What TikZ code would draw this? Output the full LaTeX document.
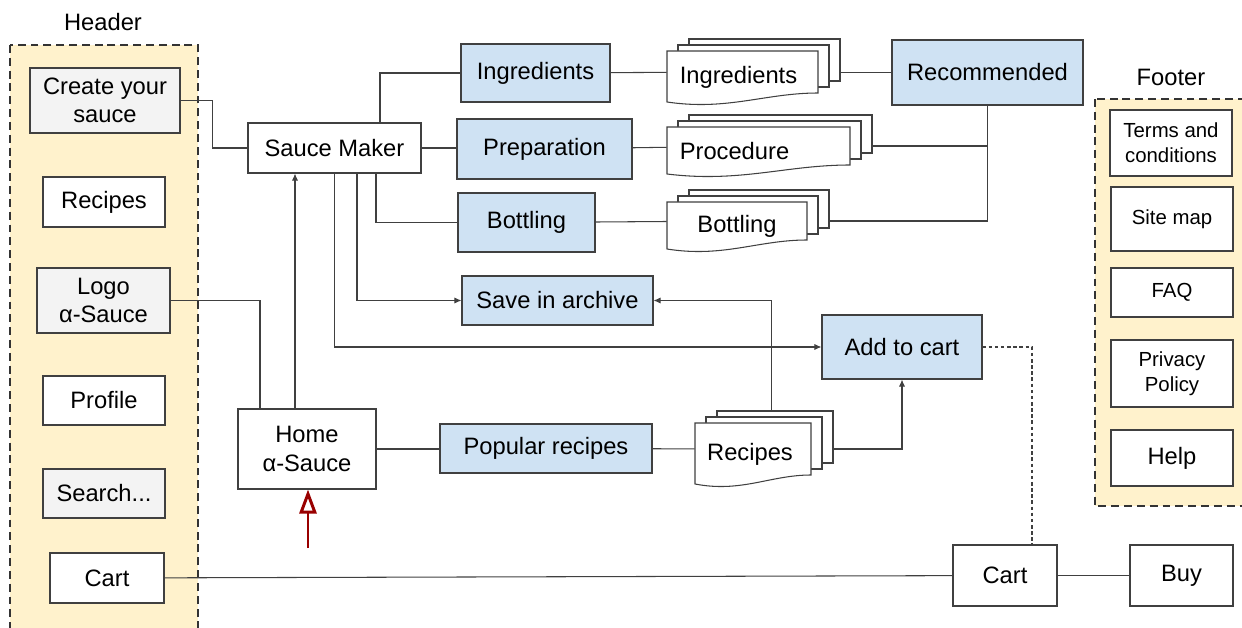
\documentclass[tikz,border=0pt]{standalone}
\usepackage{fontspec}
\setmainfont{Liberation Sans}
\usetikzlibrary{arrows.meta,calc}
\definecolor{boxblue}{HTML}{CFE2F3}
\definecolor{boxgray}{HTML}{F3F3F3}
\definecolor{areayellow}{HTML}{FFF2CC}
\definecolor{linegray}{HTML}{404040}
\definecolor{homered}{HTML}{990000}
% stack of three pages: name, left, top, right, height, text shift, text
\newcommand{\docstack}[7]{%
  \foreach \s in {2,1}
    \draw[page] (#2+11*\s,#3-6*\s) rectangle (#4+11*\s,#3+#5-6*\s);
  \draw[page] (#2,#3) -- (#4,#3) -- (#4,#3+#5)
    .. controls ({#4-0.35*(#4-#2)},#3+#5) and ({#2+0.4*(#4-#2)},#3+#5+18) .. (#2,#3+#5+9) -- cycle;
  \node[minimum width={(#4-#2)*0.02cm}, minimum height={#5*0.02cm}, inner sep=0pt] (#1) at ({(#2+#4)/2},{#3+#5/2}) {};
  \node[font=\fontsize{13.5}{16}\selectfont] (#1-label) at ($(#1)+(#6,5)$) {#7};
  \coordinate (#1-back) at (#4+22,{#3+#5/2});
}
\begin{document}
\begin{tikzpicture}[x=0.02cm, y=-0.02cm,
    box/.style={draw=linegray, line width=0.6pt, inner sep=0pt, align=center, font=\fontsize{13.5}{16}\selectfont},
    whitebox/.style={box, fill=white},
    greybox/.style={box, fill=boxgray},
    bluebox/.style={box, fill=boxblue},
    small/.style={font=\fontsize{11.6}{14}\selectfont},
    page/.style={draw=linegray, line width=0.6pt, fill=white},
    area/.style={draw=black!80, fill=areayellow, line width=1.3pt, dash pattern=on 4.5pt off 2.8pt},
    link/.style={draw=linegray, line width=0.6pt},
    linkarrow/.style={link, -{Latex[length=4pt,width=3.5pt]}},
    entryarrow/.style={draw=homered, line width=1.7pt, -{Triangle[open, length=0.48cm, width=0.34cm, line width=1.7pt]}}]
    \useasboundingbox (0,0) rectangle (1242,628);
    % header and footer
    \draw[area] (10,45) rectangle (198,660);
    \draw[area] (1095,99) rectangle (1270,506);
    \node[font=\fontsize{13.5}{16}\selectfont] (headertitle) at (103,22) {Header};
    \node[font=\fontsize{13.5}{16}\selectfont] (footertitle) at (1171,77) {Footer};
    \node[greybox, minimum width=3cm, minimum height=1.3cm] (create) at (105,100.5) {Create your\\sauce};
    \node[whitebox, minimum width=2.44cm, minimum height=1cm] (recipesH) at (104,202) {Recipes};
    \node[greybox, minimum width=2.66cm, minimum height=1.3cm] (logo) at (103.5,300.5) {Logo\\α-Sauce};
    \node[whitebox, minimum width=2.44cm, minimum height=0.98cm] (profile) at (104,400.5) {Profile};
    \node[greybox, minimum width=2.44cm, minimum height=0.98cm] (search) at (104,493.5) {Search...};
    \node[whitebox, minimum width=2.28cm, minimum height=1cm] (cartH) at (107,578) {Cart};
    \node[whitebox, small, minimum width=2.44cm, minimum height=1.32cm] (terms) at (1171,143) {Terms and\\conditions};
    \node[whitebox, small, minimum width=2.44cm, minimum height=1.28cm] (sitemap) at (1172,219) {Site map};
    \node[whitebox, small, minimum width=2.44cm, minimum height=0.98cm] (faq) at (1172,292.5) {FAQ};
    \node[whitebox, small, minimum width=2.44cm, minimum height=1.34cm] (privacy) at (1172,373.5) {Privacy\\Policy};
    \node[whitebox, minimum width=2.44cm, minimum height=1.12cm] (help) at (1172,458) {Help};
    % pages
    \node[whitebox, minimum width=3.46cm, minimum height=1cm] (maker) at (334.5,148) {Sauce Maker};
    \node[bluebox, minimum width=2.98cm, minimum height=1.16cm] (ingr) at (535.5,73) {Ingredients};
    \node[bluebox, minimum width=3.5cm, minimum height=1.2cm] (prep) at (544.5,149) {Preparation};
    \node[bluebox, minimum width=2.74cm, minimum height=1.18cm] (bott) at (526.5,222.5) {Bottling};
    \node[bluebox, minimum width=3.82cm, minimum height=0.98cm] (archive) at (557.5,300.5) {Save in archive};
    \node[bluebox, minimum width=3.2cm, minimum height=1.28cm] (addcart) at (902,347) {Add to cart};
    \node[bluebox, minimum width=3.82cm, minimum height=1.3cm] (recom) at (987.5,72.5) {Recommended};
    \node[whitebox, minimum width=2.76cm, minimum height=1.6cm] (home) at (307,449) {Home\\α-Sauce};
    \node[bluebox, minimum width=4.24cm, minimum height=0.98cm] (popular) at (546,448.5) {Popular recipes};
    \node[whitebox, minimum width=2.08cm, minimum height=1.22cm] (cart) at (1005,575.5) {Cart};
    \node[whitebox, minimum width=2.06cm, minimum height=1.22cm] (buy) at (1181.5,575.5) {Buy};
    \docstack{ingdoc}{667}{51}{818}{42}{-4}{Ingredients}
    \docstack{procdoc}{667}{127}{850}{38}{-24}{Procedure}
    \docstack{bottdoc}{667}{202}{807}{38}{0}{Bottling}
    \docstack{recdoc}{695}{423}{811}{52}{-3}{Recipes}
    \coordinate (entry) at (308,548);
    % connectors
    \draw[link] (create.east) -- ++(32,0) |- (maker.west);
    \draw[link] ($(maker.north)+(45.5,0)$) |- (ingr.west);
    \draw[link] (maker.east) -- (maker.east -| prep.west);
    \draw[link] ($(maker.south)+(41.5,0)$) |- (bott.west);
    \draw[linkarrow] ($(maker.south)+(22.5,0)$) |- (archive.west);
    \draw[linkarrow] (maker.south) |- (addcart.west);
    \draw[linkarrow] ($(home.north)+(-12,0)$) -- ($(maker.south)+(-39.5,0)$);
    \draw[link] (logo.east) -| ($(home.north)+(-47,0)$);
    \draw[link] (ingr) -- (ingdoc);
    \draw[link] (prep) -- (procdoc);
    \draw[link] (bott) -- (bottdoc);
    \draw[link] (ingdoc-back |- recom.west) -- (recom.west);
    \draw[link] (procdoc-back) -- (procdoc-back -| recom.south);
    \draw[link] (recom.south) |- (bottdoc-back);
    \draw[link] (home.east) -- (home.east -| popular.west);
    \draw[link] (popular) -- (recdoc);
    \draw[linkarrow] ($(recdoc.north)+(18.5,-12)$) |- (archive.east);
    \draw[linkarrow] (recdoc-back) -| (addcart.south);
    \draw[link, dash pattern=on 2pt off 1.5pt] (addcart.east) -| ($(cart.north)+(27,0)$);
    \draw[link] (cartH) -- (cart);
    \draw[link] (cart) -- (buy);
    \draw[entryarrow] (entry) -- (entry |- home.south);
\end{tikzpicture}
\end{document}
